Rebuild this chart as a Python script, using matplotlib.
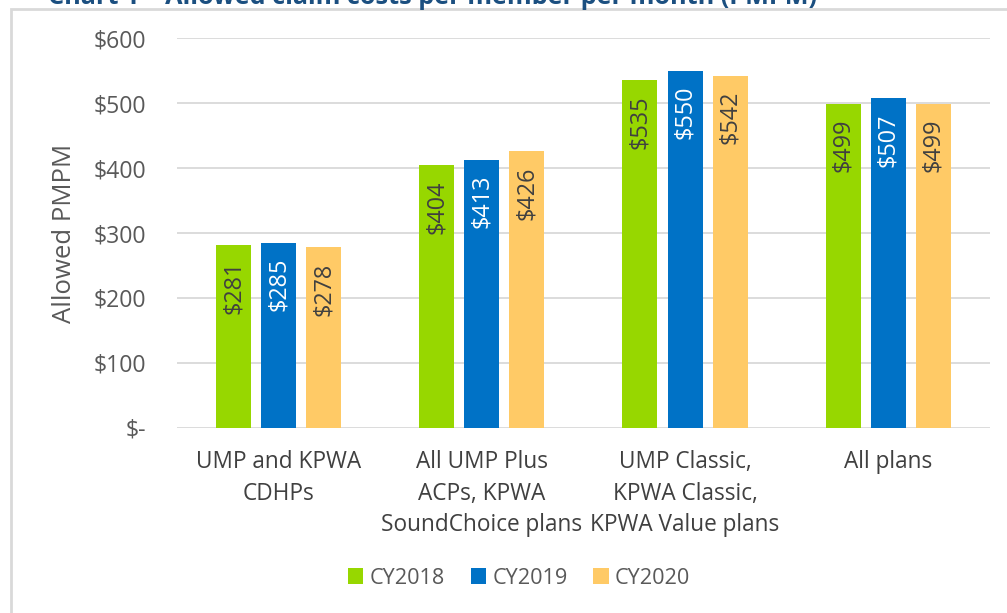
import numpy as np
import matplotlib
matplotlib.use('Agg')
import matplotlib.pyplot as plt
from matplotlib.patches import Rectangle

plt.rcParams['font.family'] = ['Open Sans', 'DejaVu Sans']

# data
categories = ['UMP and KPWA\nCDHPs',
              'All UMP Plus\nACPs, KPWA\nSoundChoice plans',
              'UMP Classic,\nKPWA Classic,\nKPWA Value plans',
              'All plans']
years = ['CY2018', 'CY2019', 'CY2020']
cy2018 = [281, 404, 535, 499]
cy2019 = [285, 413, 550, 507]
cy2020 = [278, 426, 542, 499]
yticks = [0, 100, 200, 300, 400, 500, 600]
ytick_labels = ['$-', '$100', '$200', '$300', '$400', '$500', '$600']

colors = ['#97D700', '#0072C6', '#FFCA66']
label_colors = ['#404040', 'white', '#404040']

fig = plt.figure(figsize=(10.07, 6.13), dpi=100)
ax = fig.add_axes([0.1758, 0.3018, 0.8072, 0.6362])

x = np.arange(len(categories))
width = 0.172
step = 0.222
series = [cy2018, cy2019, cy2020]
for i, vals in enumerate(series):
    bars = ax.bar(x + (i - 1) * step, vals, width, color=colors[i], label=years[i], zorder=3)
    for b, v in zip(bars, vals):
        ax.annotate('$%d' % v, (b.get_x() + b.get_width() / 2, v),
                    xytext=(0, -11), textcoords='offset points',
                    rotation=90, ha='center', va='top',
                    fontsize=16.8, color=label_colors[i], zorder=4)

ax.set_xlim(-0.5, len(categories) - 0.5)
ax.set_ylim(0, 600)
ax.set_yticks(yticks)
ax.set_yticklabels(ytick_labels)
ax.grid(axis='y', color='#D9D9D9', linewidth=1.3, zorder=0)
for s in ax.spines.values():
    s.set_visible(False)
ax.tick_params(axis='y', length=0, labelsize=16.6, colors='#595959', pad=22)
ax.set_xticks(x)
ax.set_xticklabels(categories, linespacing=1.42, color='#404040')
ax.tick_params(axis='x', length=0, labelsize=16.3, pad=16)
ax.set_ylabel('Allowed PMPM', fontsize=18.5, color='#595959', labelpad=12)

ax.legend(loc='center', bbox_to_anchor=(519 / 1007, 1 - 578 / 613),
          bbox_transform=fig.transFigure, ncol=3, frameon=False,
          fontsize=15.6, labelcolor='#595959', handlelength=0.7, handleheight=0.7,
          handletextpad=0.3, columnspacing=1.2)

# chart border and cut-off title
fig.patches.append(Rectangle((11 / 1007, -0.1), 1.2, 1 - 9 / 613 + 0.1,
                             transform=fig.transFigure, fill=False,
                             edgecolor='#D9D9D9', linewidth=2))
fig.text(48 / 1007, 1 - 4 / 613, 'Chart 1 \u2013 Allowed claim costs per member per month (PMPM)',
         fontsize=18.2, fontweight='bold', color='#1B4F80', va='baseline')

fig.savefig('out.png', dpi=100)
